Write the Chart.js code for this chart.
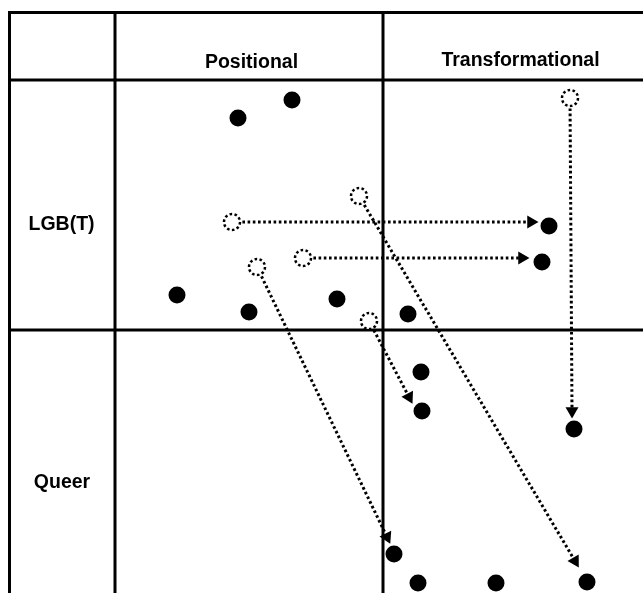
<!DOCTYPE html>
<html>
<head>
<meta charset="utf-8">
<script src="https://cdn.jsdelivr.net/npm/chart.js@4.4.1/dist/chart.umd.min.js"></script>
<style>
  html, body { margin: 0; padding: 0; background: #fff; }
  #wrap { width: 643px; height: 593px; position: relative; }
</style>
</head>
<body>
<div id="wrap"><canvas id="typology"></canvas></div>
<script>
// Diagram coordinates (x to the right, y downwards)
const columnLabels = ['Positional', 'Transformational'];
const rowLabels = ['LGB(T)', 'Queer'];
const columnEdges = [9.5, 115, 383];
const rowEdges = [12.5, 80, 330];

// Filled dots: current positions
const filledPoints = [
    { x: 292, y: 100 }, { x: 238, y: 118 },
    { x: 549, y: 226 }, { x: 542, y: 262 },
    { x: 177, y: 295 }, { x: 249, y: 312 }, { x: 337, y: 299 }, { x: 408, y: 314 },
    { x: 421, y: 372 }, { x: 422, y: 411 }, { x: 574, y: 429 },
    { x: 394, y: 554 }, { x: 418, y: 583 }, { x: 496, y: 583 }, { x: 587, y: 582 }
];

// Hollow dots: former positions, each the start of an arrow
const startPoints = [
    { x: 232, y: 222 }, { x: 303, y: 258 }, { x: 570, y: 98 },
    { x: 369, y: 321 }, { x: 257, y: 267 }, { x: 359, y: 196 }
];

// Arrow heads, same order as startPoints
const headPoints = [
    { x: 531, y: 222 }, { x: 522, y: 258 }, { x: 572, y: 411 },
    { x: 409, y: 397 }, { x: 387, y: 537 }, { x: 575, y: 561 }
];

// dashed hollow circle used as point style
function makeHollowCircle() {
    const c = document.createElement('canvas');
    c.width = 24;
    c.height = 24;
    const g = c.getContext('2d');
    g.beginPath();
    g.arc(12, 12, 8, 0, Math.PI * 2);
    g.fillStyle = '#fff';
    g.fill();
    g.setLineDash([2.6, 2.4]);
    g.lineWidth = 2.5;
    g.strokeStyle = '#000';
    g.stroke();
    return c;
}
const hollowStyle = makeHollowCircle();

const arrowSets = startPoints.map(function(p, i) {
    return {
        type: 'scatter',
        data: [p, headPoints[i]],
        showLine: true,
        borderColor: '#000',
        borderWidth: 3,
        borderDash: [2.6, 2.6],
        pointStyle: 'triangle',
        pointRadius: function(ctx) { return ctx.dataIndex === 1 ? 7.5 : 0; },
        pointBackgroundColor: '#000',
        pointBorderWidth: 0,
        pointRotation: function(ctx) {
            const xs = ctx.chart.scales.x, ys = ctx.chart.scales.y;
            const dx = xs.getPixelForValue(headPoints[i].x) - xs.getPixelForValue(p.x);
            const dy = ys.getPixelForValue(headPoints[i].y) - ys.getPixelForValue(p.y);
            return Math.atan2(dy, dx) * 180 / Math.PI + 90;
        },
        order: 1
    };
});

const tablePlugin = {
    id: 'tableGrid',
    beforeDatasetsDraw(chart) {
        const ctx = chart.ctx;
        const xs = chart.scales.x, ys = chart.scales.y;
        const left = xs.getPixelForValue(columnEdges[0]);
        const top = ys.getPixelForValue(rowEdges[0]);
        ctx.save();
        ctx.strokeStyle = '#000';
        ctx.lineWidth = 3;
        columnEdges.forEach(function(v) {
            const px = xs.getPixelForValue(v);
            ctx.beginPath();
            ctx.moveTo(px, top - 1.5);
            ctx.lineTo(px, chart.height);
            ctx.stroke();
        });
        rowEdges.forEach(function(v) {
            const py = ys.getPixelForValue(v);
            ctx.beginPath();
            ctx.moveTo(left - 1.5, py);
            ctx.lineTo(chart.width, py);
            ctx.stroke();
        });

        ctx.fillStyle = '#000';
        ctx.font = 'bold 19.5px "Liberation Sans", Arial, sans-serif';
        ctx.textAlign = 'center';
        ctx.textBaseline = 'alphabetic';
        ctx.fillText(columnLabels[0], xs.getPixelForValue(251.5), ys.getPixelForValue(68));
        ctx.fillText(columnLabels[1], xs.getPixelForValue(520.5), ys.getPixelForValue(66));
        ctx.fillText(rowLabels[0], xs.getPixelForValue(61.5), ys.getPixelForValue(230));
        ctx.fillText(rowLabels[1], xs.getPixelForValue(62), ys.getPixelForValue(488));
        ctx.restore();
    }
};

new Chart(document.getElementById('typology'), {
    type: 'scatter',
    data: {
        datasets: [
            {
                label: 'Former position',
                data: startPoints,
                pointStyle: hollowStyle,
                pointRadius: 10,
                order: 0
            },
            ...arrowSets,
            {
                label: 'Current position',
                data: filledPoints,
                pointStyle: 'circle',
                pointRadius: 8.5,
                pointBackgroundColor: '#000',
                pointBorderWidth: 0,
                order: 2
            }
        ]
    },
    options: {
        responsive: true,
        maintainAspectRatio: false,
        animation: false,
        events: [],
        layout: { padding: 0, autoPadding: false },
        plugins: {
            legend: { display: false },
            tooltip: { enabled: false }
        },
        scales: {
            x: { type: 'linear', display: false, min: 0, max: 643 },
            y: { type: 'linear', display: false, min: 0, max: 593, reverse: true }
        }
    },
    plugins: [tablePlugin]
});
</script>
</body>
</html>
